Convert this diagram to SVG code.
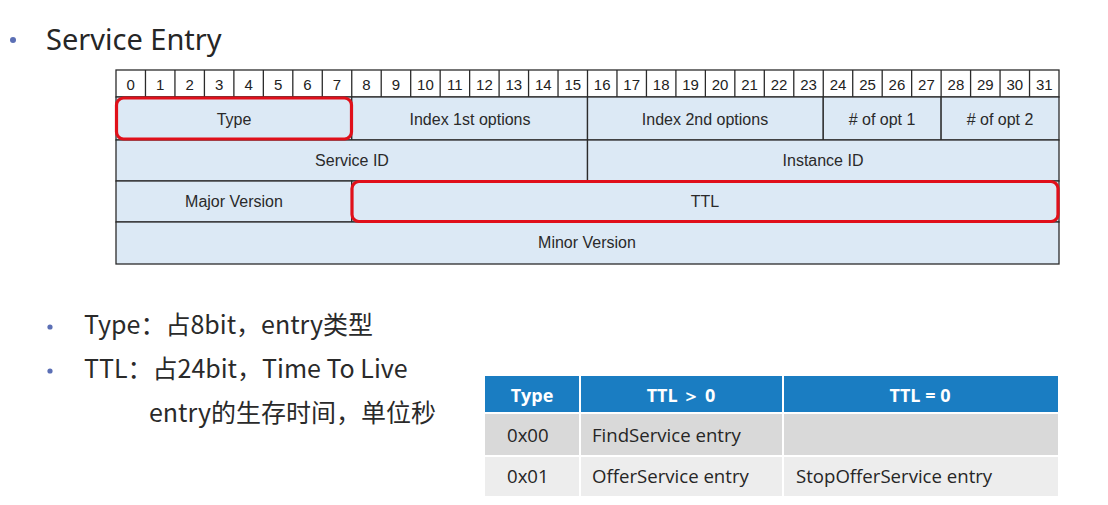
<svg xmlns="http://www.w3.org/2000/svg" width="1108" height="505" viewBox="0 0 1108 505">
  <style>
    .bit { fill: #ffffff; stroke: #2b2b2b; stroke-width: 1.3; }
    .field { fill: #dce9f5; stroke: #2b2b2b; stroke-width: 1.3; }
    .hl { fill: none; stroke: #e0101a; stroke-width: 3.2; }
    .bitnum { font-family: "Liberation Sans", Arial, sans-serif; font-size: 15px; fill: #222; text-anchor: middle; }
    .flabel { font-family: "Liberation Sans", Arial, sans-serif; font-size: 16px; fill: #2a2a2a; text-anchor: middle; }
    .title { font-family: "Noto Sans", "Noto Sans CJK SC", sans-serif; font-size: 29px; fill: #262626; }
    .note { font-family: "Noto Sans CJK SC", "Noto Sans", sans-serif; font-size: 25px; fill: #2a2a2a; }
    .dot { fill: #5b6fb5; }
    .th { font-family: "Open Sans", "Noto Sans", sans-serif; font-size: 18px; font-weight: bold; fill: #ffffff; text-anchor: middle; }
    .td { font-family: "Open Sans", "Noto Sans", sans-serif; font-size: 18.6px; fill: #262626; }
  </style>

  <rect width="1108" height="505" fill="#ffffff"/>

  <!-- heading -->
  <g id="heading">
    <circle class="dot" cx="13" cy="40" r="3"/>
    <text class="title" x="46" y="50">Service Entry</text>
  </g>

  <!-- bit ruler 0..31 -->
  <g id="bit-ruler">
    <rect class="bit" x="116" y="70" width="943" height="27"/>
    <g stroke="#2b2b2b" stroke-width="1.3">
      <line x1="145.47" y1="70" x2="145.47" y2="97"/><line x1="174.94" y1="70" x2="174.94" y2="97"/>
      <line x1="204.41" y1="70" x2="204.41" y2="97"/><line x1="233.88" y1="70" x2="233.88" y2="97"/>
      <line x1="263.34" y1="70" x2="263.34" y2="97"/><line x1="292.81" y1="70" x2="292.81" y2="97"/>
      <line x1="322.28" y1="70" x2="322.28" y2="97"/><line x1="351.75" y1="70" x2="351.75" y2="97"/>
      <line x1="381.22" y1="70" x2="381.22" y2="97"/><line x1="410.69" y1="70" x2="410.69" y2="97"/>
      <line x1="440.16" y1="70" x2="440.16" y2="97"/><line x1="469.63" y1="70" x2="469.63" y2="97"/>
      <line x1="499.09" y1="70" x2="499.09" y2="97"/><line x1="528.56" y1="70" x2="528.56" y2="97"/>
      <line x1="558.03" y1="70" x2="558.03" y2="97"/><line x1="587.5" y1="70" x2="587.5" y2="97"/>
      <line x1="616.97" y1="70" x2="616.97" y2="97"/><line x1="646.44" y1="70" x2="646.44" y2="97"/>
      <line x1="675.91" y1="70" x2="675.91" y2="97"/><line x1="705.38" y1="70" x2="705.38" y2="97"/>
      <line x1="734.84" y1="70" x2="734.84" y2="97"/><line x1="764.31" y1="70" x2="764.31" y2="97"/>
      <line x1="793.78" y1="70" x2="793.78" y2="97"/><line x1="823.25" y1="70" x2="823.25" y2="97"/>
      <line x1="852.72" y1="70" x2="852.72" y2="97"/><line x1="882.19" y1="70" x2="882.19" y2="97"/>
      <line x1="911.66" y1="70" x2="911.66" y2="97"/><line x1="941.13" y1="70" x2="941.13" y2="97"/>
      <line x1="970.59" y1="70" x2="970.59" y2="97"/><line x1="1000.06" y1="70" x2="1000.06" y2="97"/>
      <line x1="1029.53" y1="70" x2="1029.53" y2="97"/>
    </g>
    <g class="bitnum">
      <text x="130.7" y="89.5">0</text><text x="160.2" y="89.5">1</text><text x="189.7" y="89.5">2</text><text x="219.1" y="89.5">3</text>
      <text x="248.6" y="89.5">4</text><text x="278.1" y="89.5">5</text><text x="307.5" y="89.5">6</text><text x="337.0" y="89.5">7</text>
      <text x="366.5" y="89.5">8</text><text x="396.0" y="89.5">9</text><text x="425.4" y="89.5">10</text><text x="454.9" y="89.5">11</text>
      <text x="484.4" y="89.5">12</text><text x="513.8" y="89.5">13</text><text x="543.3" y="89.5">14</text><text x="572.8" y="89.5">15</text>
      <text x="602.2" y="89.5">16</text><text x="631.7" y="89.5">17</text><text x="661.2" y="89.5">18</text><text x="690.6" y="89.5">19</text>
      <text x="720.1" y="89.5">20</text><text x="749.6" y="89.5">21</text><text x="779.0" y="89.5">22</text><text x="808.5" y="89.5">23</text>
      <text x="838.0" y="89.5">24</text><text x="867.5" y="89.5">25</text><text x="896.9" y="89.5">26</text><text x="926.4" y="89.5">27</text>
      <text x="955.9" y="89.5">28</text><text x="985.3" y="89.5">29</text><text x="1014.8" y="89.5">30</text><text x="1044.3" y="89.5">31</text>
    </g>
  </g>

  <!-- word 0 -->
  <g id="field-type">
    <rect class="field" x="116" y="97" width="235.75" height="43"/>
    <text class="flabel" x="234" y="125">Type</text>
  </g>
  <g id="field-index1">
    <rect class="field" x="351.75" y="97" width="235.75" height="43"/>
    <text class="flabel" x="470" y="125">Index 1st options</text>
  </g>
  <g id="field-index2">
    <rect class="field" x="587.5" y="97" width="235.75" height="43"/>
    <text class="flabel" x="705" y="125">Index 2nd options</text>
  </g>
  <g id="field-nopt1">
    <rect class="field" x="823.25" y="97" width="117.88" height="43"/>
    <text class="flabel" x="882" y="125"># of opt 1</text>
  </g>
  <g id="field-nopt2">
    <rect class="field" x="941.13" y="97" width="117.87" height="43"/>
    <text class="flabel" x="1000" y="125"># of opt 2</text>
  </g>

  <!-- word 1 -->
  <g id="field-service-id">
    <rect class="field" x="116" y="140" width="471.5" height="41"/>
    <text class="flabel" x="352" y="166">Service ID</text>
  </g>
  <g id="field-instance-id">
    <rect class="field" x="587.5" y="140" width="471.5" height="41"/>
    <text class="flabel" x="823" y="166">Instance ID</text>
  </g>

  <!-- word 2 -->
  <g id="field-major">
    <rect class="field" x="116" y="181" width="235.75" height="41"/>
    <text class="flabel" x="234" y="207">Major Version</text>
  </g>
  <g id="field-ttl">
    <rect class="field" x="351.75" y="181" width="707.25" height="41"/>
    <text class="flabel" x="705" y="207">TTL</text>
  </g>

  <!-- word 3 -->
  <g id="field-minor">
    <rect class="field" x="116" y="222" width="943" height="42"/>
    <text class="flabel" x="587" y="248">Minor Version</text>
  </g>

  <!-- highlight frames -->
  <g id="highlights">
    <rect class="hl" x="116.5" y="98" width="235" height="41" rx="7"/>
    <rect class="hl" x="352" y="181.5" width="706" height="40" rx="7"/>
  </g>

  <!-- notes -->
  <g id="notes">
    <circle class="dot" cx="50" cy="327" r="2.6"/>
    <text class="note" x="84" y="334">Type：占8bit，entry类型</text>
    <circle class="dot" cx="50" cy="371" r="2.6"/>
    <text class="note" x="84" y="378">TTL：占24bit，Time To Live</text>
    <text class="note" x="149" y="422">entry的生存时间，单位秒</text>
  </g>

  <!-- type / TTL table -->
  <g id="entry-table">
    <rect x="485" y="376" width="573" height="36" fill="#1a7dc2"/>
    <rect x="485" y="414" width="573" height="41" fill="#d9d9d9"/>
    <rect x="485" y="457" width="573" height="39" fill="#ededed"/>
    <g stroke="#ffffff" stroke-width="2">
      <line x1="580" y1="376" x2="580" y2="496"/>
      <line x1="783" y1="376" x2="783" y2="496"/>
    </g>
    <text class="th" x="532" y="402">Type</text>
    <text class="th" x="681" y="402">TTL ＞ 0</text>
    <text class="th" x="920" y="402">TTL = 0</text>
    <text class="td" x="507" y="442">0x00</text>
    <text class="td" x="592" y="442">FindService entry</text>
    <text class="td" x="507" y="483">0x01</text>
    <text class="td" x="592" y="483">OfferService entry</text>
    <text class="td" x="796" y="483">StopOfferService entry</text>
  </g>
</svg>
